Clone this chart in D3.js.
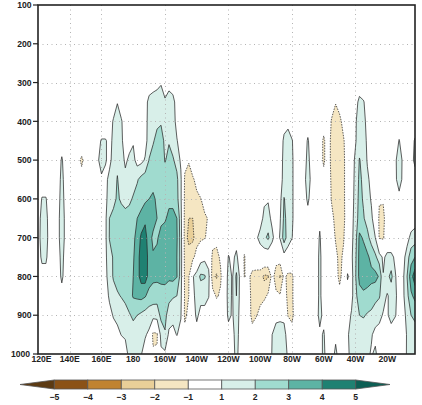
<!DOCTYPE html>
<html>
<head>
<meta charset="utf-8">
<script src="https://cdn.jsdelivr.net/npm/d3@7"></script>
<style>
  html, body { margin: 0; padding: 0; background: #ffffff; }
  svg { display: block; }
  text { font-family: "Liberation Sans", Arial, sans-serif; font-weight: bold; fill: #222; }
</style>
</head>
<body>
<script>
// ---------------- DATA ----------------
// pressure levels (hPa) of the grid rows
const levels = [250, 300, 350, 400, 450, 500, 550, 600, 650, 700, 750, 800, 850, 900, 950, 1000];
// grid longitudes: 120E .. 357.5E every 2.5 degrees (96 columns)
const lonStart = 120, lonStep = 2.5, nLon = 96;

// values per pressure level, 96 columns from 120E eastward
const p250 = [0,0,0,0,0,0,0,0,0,0, 0,0,0,0,0,0,0,0,0,0, 0,0,0,0,0,0,0,0,0,0, 0,0,0,0,0,0,0,0,0,0, 0,0,0,0,0,0,0,0,0,0, 0,0,0,0,0,0,0,0,0,0, 0,0,0,0,0,0,0,0,0,0, 0,0,0,0,0,0,0,0,0,0, 0,0,0,0,0,0,0,0,0,0, 0,0,0,0,0,0];
const p300 = [0,0,0,0,0,0,0,0,0,0, 0,0,0,0,0,0,0,0,0,0, 0,0,0,0,0,0,0,0,.4,.6, .7,.9,.6,.7,.5,0,0,0,0,0, 0,0,0,0,0,0,0,0,0,0, 0,0,0,0,0,0,0,0,0,0, 0,0,0,0,0,0,0,0,0,0, 0,0,0,0,0,.3,0,0,0,0, 0,.5,0,0,0,0,0,0,0,0, 0,0,0,0,0,0];
const p350 = [0,0,0,0,0,0,0,0,0,0, 0,0,0,0,0,0,0,0,0,.4, .95,.4,0,0,0,0,0,.6,1.3,1.4, 1.5,1.6,1.1,1.4,1.3,.6,0,0,0,0, 0,0,0,0,0,0,0,0,0,0, 0,0,0,0,0,0,0,0,0,0, 0,0,0,0,0,0,0,0,0,0, 0,0,0,0,-.5,-.95,-.5,0,0,0, .7,1.2,1.1,.5,0,0,0,0,0,0, 0,0,0,0,0,0];
const p400 = [0,0,0,0,0,0,0,0,0,0, 0,0,0,0,0,0,0,0,.5,1.1, 1.5,1.1,.5,.5,.6,0,0,.6,1.4,1.6, 1.8,1.9,1.5,1.7,1.4,.7,0,0,0,0, 0,0,0,0,0,0,0,0,0,0, 0,0,0,0,0,0,0,0,0,0, 0,0,.6,.8,0,0,0,0,.5,0, 0,0,-.4,-.3,-1.1,-1.4,-1.3,-.6,0,0, .9,1.4,1.3,.7,0,0,0,0,0,0, 0,.3,0,0,0,.4];
const p450 = [0,0,0,0,0,0,.3,0,0,0, 0,0,0,0,0,.6,1.1,1.1,.7,1.2, 1.6,1.2,.5,.6,.9,.5,0,.6,1.5,1.9, 2.3,2.4,1.8,1.95,1.6,1.05,.6,0,0,0, 0,0,0,0,0,0,0,0,0,0, 0,0,0,0,0,0,0,0,0,0, 0,.4,1.2,1.3,1.1,.3,0,.5,1.1,.5, 0,-.4,-1.2,-.4,-1.3,-1.5,-1.5,-1.1,-.4,.4, .9,1.6,1.5,.8,0,0,0,0,0,0, .4,1.05,.5,0,.6,1.1];
const p500 = [0,0,0,0,0,.3,1.15,.3,0,0, -.5,-1.25,-.5,0,0,.8,1.5,1.1,.7,1.4, 1.8,1.5,.8,1.2,1.3,.6,.7,1.1,2.05,2.4, 2.6,2.5,1.95,2.2,2.1,1.7,.8,-.6,-.9,0, 0,0,0,0,0,0,0,0,0,0, 0,0,0,0,0,0,0,0,0,0, 0,.5,1.3,1.4,1.2,.4,0,.5,1.3,.5, 0,-.4,-1.2,-.4,-1.3,-1.5,-1.5,-1.2,-.4,.5, 1.2,2.05,1.7,.9,0,0,0,0,0,0, .85,1.4,.85,0,.7,1.2];
const p550 = [0,.5,.5,0,0,.5,1.3,.5,0,0, 0,-.5,0,0,0,0,.8,.7,1.3,1.6, 2.05,1.6,1.3,1.4,1.6,1.9,2.3,2.5,2.7,2.8, 2.8,2.7,2.4,2.5,2.5,2.2,1.2,-1.2,-1.5,-1.2, -.6,0,0,0,0,0,0,0,0,0, 0,0,0,0,0,0,0,0,0,0, 0,.5,1.4,1.5,1.2,.4,0,.5,1.7,.5, 0,0,-.6,-.3,-1.2,-1.5,-1.5,-1.2,-.4,.5, 1.3,2.2,1.8,1.2,.7,0,0,0,0,0, .85,1.3,.85,0,.3,.6];
const p600 = [.5,1.05,1.05,.5,0,.6,1.4,.6,0,0, 0,0,0,0,0,0,0,.7,1.5,1.8, 2.1,1.9,1.7,1.8,2.1,2.4,2.6,2.8,3.0,3.1, 2.9,2.8,2.7,2.8,2.7,2.3,1.2,-1.3,-1.6,-1.5, -1.3,-1.05,-.5,0,0,0,0,0,0,0, 0,0,0,0,0,0,0,.8,.9,0, 0,.7,2.05,1.6,1.2,.4,0,.5,1.2,.5, 0,0,0,-.3,-1.1,-1.4,-1.5,-1.2,-.4,.5, 1.4,2.3,1.9,1.4,.9,.3,-.9,-.9,0,0, .5,.8,.5,0,0,0];
const p650 = [.6,1.3,1.3,.5,0,.7,1.5,.7,0,0, 0,0,0,0,0,0,0,.8,2.0,2.2, 2.3,2.3,2.3,2.4,2.7,3.0,3.3,3.8,3.6,3.4, 3.0,2.8,2.9,3.2,3.3,3.0,1.4,-1.4,-2.0,-2.0, -1.6,-1.4,-1.2,-.9,0,0,0,0,0,0, 0,0,0,0,0,0,.5,1.3,1.4,.7, 0,.9,2.2,1.7,1.2,.4,0,0,.6,0, 0,.8,0,0,-.7,-1.3,-1.4,-1.2,-.5,.6, 1.5,2.4,2.1,1.6,1.2,.4,-1.2,-1.25,-.4,0, 0,0,0,0,.3,.5];
const p700 = [.6,1.4,1.4,.5,0,.7,1.5,.7,0,0, 0,0,0,0,0,0,0,.8,2.05,2.3, 2.4,2.3,2.4,2.5,2.8,3.3,4.2,4.4,3.4,2.8, 2.9,3.3,3.4,3.5,3.4,3.1,1.5,-1.5,-2.3,-2.2, -1.5,-1.3,-1.1,-.6,-.5,-.6,0,0,.5,0, .6,0,0,0,0,.8,1.4,1.8,2.2,1.3, .4,1.1,2.5,1.5,1.05,.3,0,0,0,0, .4,1.1,.4,0,-.4,-1.1,-1.4,-1.1,0,.7, 1.6,3.2,2.9,2.3,1.6,1.0,-1.1,-1.15,0,0, 0,0,0,.6,1.3,1.5];
const p750 = [.5,1.2,1.2,.4,0,.6,1.3,.6,0,0, 0,0,0,0,0,0,0,.8,1.6,2.1, 2.4,2.5,2.5,2.7,2.9,3.5,4.5,4.6,3.6,3.1, 3.2,3.5,3.6,3.5,3.4,3.0,1.6,-1.4,-1.5,-1.3, -.5,.5,.7,.3,-1.3,-1.4,-.8,.3,1.05,.8, 1.2,.4,-1.15,0,0,0,.2,.3,.2,0, -.6,-.4,.6,.4,0,0,0,0,0,0, .5,1.2,.5,0,0,-.7,-1.3,-.8,.4,.8, 1.8,3.3,3.4,3.2,2.7,2.2,1.5,.8,1.3,1.3, .8,0,.6,1.5,2.6,3.0];
const p800 = [0,.6,.6,0,0,.5,1.2,.5,0,0, 0,0,0,0,0,0,0,.7,1.5,2.1, 2.3,2.4,2.5,2.6,3.0,3.6,4.4,4.5,3.6,3.3, 3.3,3.4,3.3,3.2,3.3,3.05,1.5,-1.3,-1.05,.9, 1.5,2.2,2.1,1.4,-1.8,-2.1,-1.2,0,1.4,.9, 2.2,.6,-1.05,-.7,-1.4,-1.5,-1.6,-2.2,-2.1,-.6, -1.5,-2.1,-.7,-1.3,-1.2,-.4,0,0,0,0, .5,1.2,.5,0,0,-.5,-1.3,-.5,1.1,.6, 1.9,3.3,3.5,3.4,3.3,3.3,2.9,1.05,1.7,2.3, 1.1,.5,.8,2.0,3.6,4.6];
const p850 = [0,0,0,0,0,0,.6,0,0,0, 0,0,0,0,0,0,0,.4,1.2,1.6, 1.9,2.05,2.2,2.6,3.1,3.2,3.3,3.1,2.6,2.4, 2.3,2.4,2.6,2.3,2.1,2.0,1.3,-1.2,-1.0,.7, 1.4,1.3,1.2,1.1,-.5,-1.15,-.8,.4,1.3,.9, 2.0,.6,0,-.6,-1.3,-1.4,-1.4,-1.3,-.8,-.3, -.8,-.9,-.4,-1.3,-1.2,-.3,0,0,0,0, .5,1.2,.5,0,0,0,-.6,0,.5,.7, 1.7,2.6,2.8,2.7,2.5,2.3,2.1,1.4,.9,1.3, 1.2,.6,.8,1.7,2.8,3.3];
const p900 = [0,0,0,0,0,0,0,0,0,0, 0,0,0,0,0,0,0,0,.6,1.1, 1.4,1.5,1.7,1.9,2.2,2.0,1.8,1.6,1.5,1.5, 1.6,2.2,2.3,1.5,1.3,1.4,1.1,-1.3,-.6,.5, 1.2,.7,.8,0,0,0,0,.4,1.2,.9, 1.6,.6,0,-.5,-1.3,-1.1,-.6,0,0,0, .8,.8,.8,-1.1,-1.3,-.4,0,0,0,0, .5,1.3,.7,0,0,0,0,0,.6,1.1, 1.6,2.0,2.1,1.9,1.8,1.5,1.3,.9,.9,1.3, 1.1,.5,.6,1.3,2.0,2.2];
const p950 = [0,0,0,0,0,0,0,0,0,0, 0,0,0,0,0,0,0,0,0,.4, .6,1.05,1.1,1.3,1.5,1.4,1.2,1.1,.8,-1.3, -1.2,1.5,1.9,.8,.7,1.05,.6,-.5,0,0, .6,0,0,0,0,0,0,0,.6,.7, 1.4,.6,0,0,-.6,0,0,0,0,1.0, 1.3,1.4,1.3,.6,-.5,0,0,0,0,0, 0,.8,1.1,.4,0,.7,0,0,.9,1.3, 1.5,1.5,1.4,1.3,1.1,.7,.6,.5,.3,.6, 0,0,.4,1.1,1.5,1.6];
const p1000 = [0,0,0,0,0,0,0,0,0,0, 0,0,0,0,0,0,0,0,0,0, 0,0,.7,1.2,1.3,1.2,1.05,.6,0,-.8, -.8,.7,.8,0,0,0,0,0,0,0, 0,0,0,0,0,0,0,0,0,.6, 1.3,.5,0,0,0,0,0,0,0,1.1, 1.3,1.4,1.3,.9,0,0,0,0,0,0, 0,.6,1.2,.5,.4,1.3,.4,.4,.8,1.3, 1.4,1.4,1.3,1.2,.9,1.2,.5,0,0,0, 0,0,.5,1.1,1.3,1.4];
const rows = [p250, p300, p350, p400, p450, p500, p550, p600, p650, p700, p750, p800, p850, p900, p950, p1000];

// axis ticks / labels
const lonTicks  = [120, 140, 160, 180, 200, 220, 240, 260, 280, 300, 320, 340];
const lonLabels = ["120E", "140E", "160E", "180", "160W", "140W", "120W", "100W", "80W", "60W", "40W", "20W"];
const lonGrid   = [140, 160, 200, 240, 280, 320];
const pTicks    = [100, 200, 300, 400, 500, 600, 700, 800, 900, 1000];
const pGrid     = [200, 300, 400, 500, 600, 700, 800, 900];

// shading
const thresholds = [1, 2, 3, 4, 5];
const posColors = ["#d8efe9", "#a0dbcf", "#5db3a4", "#1f8172", "#0c5f54"];
const negColors = ["#f5e6c2", "#e9cf98", "#c08330", "#8b5216", "#5c3a12"];
const cbLabels  = [-5, -4, -3, -2, -1, 1, 2, 3, 4, 5];
const cbColors  = ["#5c3a12", "#8b5216", "#c08330", "#e9cf98", "#f5e6c2", "#ffffff", "#d8efe9", "#a0dbcf", "#5db3a4", "#1f8172", "#0c5f54"];

// ---------------- DRAW ----------------
const W = 422, H = 405;
const L = 38, R = 415, T = 5, B = 354;
const svg = d3.select("body").append("svg").attr("width", W).attr("height", H);

const x = d3.scaleLinear().domain([120, 357.5]).range([L, R]);
const y = d3.scaleLinear().domain([100, 1000]).range([T, B]);

const nx = nLon, ny = rows.length;
const idxToLon = d3.scaleLinear().domain([0, nx - 1]).range([lonStart, lonStart + lonStep * (nx - 1)]);
const idxToP   = d3.scaleLinear().domain([0, ny - 1]).range([levels[0], levels[ny - 1]]);

const proj = d3.geoTransform({
  point: function(cx, cy) {
    this.stream.point(x(idxToLon(cx - 0.5)), y(idxToP(cy - 0.5)));
  }
});
const path = d3.geoPath(proj);

const values = rows.flat();
const gen = d3.contours().size([nx, ny]).thresholds(thresholds);
const pos = gen(values);
const neg = gen(values.map(v => -v));

svg.append("defs").append("clipPath").attr("id", "plotclip")
  .append("rect").attr("x", L).attr("y", T).attr("width", R - L).attr("height", B - T);

const plot = svg.append("g").attr("clip-path", "url(#plotclip)");
plot.append("rect").attr("x", L).attr("y", T).attr("width", R - L).attr("height", B - T).attr("fill", "#ffffff");

plot.selectAll("path.pf").data(pos).join("path").attr("class", "pf")
  .attr("d", path).attr("fill", (d, i) => posColors[i]).attr("stroke", "none");
plot.selectAll("path.nf").data(neg).join("path").attr("class", "nf")
  .attr("d", path).attr("fill", (d, i) => negColors[i]).attr("stroke", "none");

// dotted grid
const grid = plot.append("g").attr("stroke", "#b4b4b4").attr("stroke-width", 1).attr("stroke-dasharray", "1,3.5");
grid.selectAll("line.gx").data(lonGrid).join("line").attr("class", "gx")
  .attr("x1", d => Math.round(x(d)) + 0.5).attr("x2", d => Math.round(x(d)) + 0.5).attr("y1", T).attr("y2", B);
grid.selectAll("line.gy").data(pGrid).join("line").attr("class", "gy")
  .attr("x1", L).attr("x2", R).attr("y1", d => Math.round(y(d)) + 0.5).attr("y2", d => Math.round(y(d)) + 0.5);

// contour lines
plot.selectAll("path.pl").data(pos).join("path").attr("class", "pl")
  .attr("d", path).attr("fill", "none").attr("stroke", "#2a2a2a").attr("stroke-width", 0.75);
plot.selectAll("path.nl").data(neg).join("path").attr("class", "nl")
  .attr("d", path).attr("fill", "none").attr("stroke", "#2a2a2a").attr("stroke-width", 0.75)
  .attr("stroke-dasharray", "1.5,1.2");

// frame
svg.append("rect").attr("x", L).attr("y", T).attr("width", R - L).attr("height", B - T)
  .attr("fill", "none").attr("stroke", "#222").attr("stroke-width", 1.6);

// y axis
svg.selectAll("line.yt").data(pTicks).join("line").attr("class", "yt")
  .attr("x1", L - 5).attr("x2", L).attr("y1", d => y(d)).attr("y2", d => y(d))
  .attr("stroke", "#222").attr("stroke-width", 1.2);
svg.selectAll("text.yl").data(pTicks).join("text").attr("class", "yl")
  .attr("x", d => d === 1000 ? 30 : 31.5).attr("y", d => y(d) + 3.2).attr("text-anchor", "end")
  .attr("font-size", 8.6).text(d => d);

// x axis labels (first label starts right of the "1000" label, as in the reference)
svg.selectAll("text.xl").data(lonTicks).join("text").attr("class", "xl")
  .attr("x", (d, i) => i === 0 ? 31.5 : x(d)).attr("y", 361.5)
  .attr("text-anchor", (d, i) => i === 0 ? "start" : "middle")
  .attr("font-size", 8.6).text((d, i) => lonLabels[i]);

// colorbar
const cbx = d3.scaleLinear().domain([0, cbLabels.length - 1]).range([54.3, 355.7]);
const cbTop = 380, cbBot = 389, cbMid = (cbTop + cbBot) / 2;
const cb = svg.append("g").attr("stroke", "#555").attr("stroke-width", 0.8);
cb.append("path")
  .attr("d", `M${cbx(0)},${cbTop}L20,${cbMid}L${cbx(0)},${cbBot}Z`)
  .attr("fill", cbColors[0]);
cb.selectAll("rect").data(d3.range(cbLabels.length - 1)).join("rect")
  .attr("x", i => cbx(i)).attr("y", cbTop).attr("width", i => cbx(i + 1) - cbx(i)).attr("height", cbBot - cbTop)
  .attr("fill", i => cbColors[i + 1]);
cb.append("path")
  .attr("d", `M${cbx(cbLabels.length - 1)},${cbTop}L390,${cbMid}L${cbx(cbLabels.length - 1)},${cbBot}Z`)
  .attr("fill", cbColors[cbColors.length - 1]);
svg.selectAll("text.cbl").data(cbLabels).join("text").attr("class", "cbl")
  .attr("x", (d, i) => cbx(i)).attr("y", 400).attr("text-anchor", "middle")
  .attr("font-size", 8.6).text(d => d < 0 ? "\u2212" + Math.abs(d) : String(d));
</script>
</body>
</html>
